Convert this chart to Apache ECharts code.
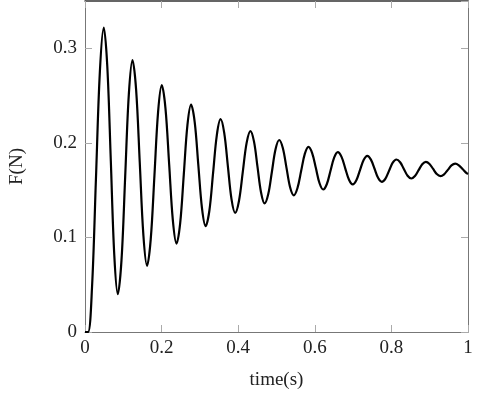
<!DOCTYPE html>
<html>
<head>
<meta charset="utf-8">
<script src="https://cdn.jsdelivr.net/npm/echarts@6/dist/echarts.min.js"></script>
<style>
  html, body { margin: 0; padding: 0; background: #fff; }
  #main { width: 480px; height: 397px; }
</style>
</head>
<body>
<div id="main"></div>
<script>
// values (peaks, troughs and points in between)
var time = [
  0, 0.008, 0.0183, 0.0285, 0.0388, 0.049, 0.0582, 0.0674, 0.0765, 0.0857,
  0.0953, 0.1049, 0.1144, 0.124, 0.1335, 0.143, 0.1525, 0.162,
  0.1716, 0.1813, 0.1909, 0.2005, 0.2101, 0.2198, 0.2294, 0.239,
  0.2485, 0.258, 0.2675, 0.277, 0.2865, 0.296, 0.3055, 0.315,
  0.3248, 0.3345, 0.3443, 0.354, 0.3635, 0.373, 0.3825, 0.392,
  0.402, 0.412, 0.422, 0.432, 0.4413, 0.4505, 0.4598, 0.469,
  0.4785, 0.488, 0.4975, 0.507, 0.5165, 0.526, 0.5355, 0.545,
  0.5546, 0.5643, 0.5739, 0.5835, 0.5931, 0.6028, 0.6124, 0.622,
  0.6315, 0.641, 0.6505, 0.66, 0.6698, 0.6795, 0.6893, 0.699,
  0.7085, 0.718, 0.7275, 0.737, 0.7465, 0.756, 0.7655, 0.775,
  0.7845, 0.794, 0.8035, 0.813, 0.8228, 0.8325, 0.8423, 0.852,
  0.8615, 0.871, 0.8805, 0.89, 0.8995, 0.909, 0.9185, 0.928,
  0.9376, 0.9473, 0.9569, 0.9665, 0.9761, 0.9858, 0.9954, 1.0
];
var force = [
  0, 0, 0.047, 0.161, 0.275, 0.322, 0.281, 0.181, 0.081, 0.040,
  0.076, 0.164, 0.251, 0.2875, 0.256, 0.179, 0.102, 0.070,
  0.098, 0.1655, 0.233, 0.261, 0.2365, 0.177, 0.118, 0.0935,
  0.115, 0.167, 0.219, 0.2405, 0.2217, 0.176, 0.1308, 0.112,
  0.1285, 0.1685, 0.2085, 0.225, 0.2105, 0.1755, 0.1405, 0.126,
  0.1386, 0.1693, 0.200, 0.2125, 0.2013, 0.1743, 0.1473, 0.136,
  0.1458, 0.1695, 0.1932, 0.203, 0.1945, 0.1738, 0.153, 0.1445,
  0.152, 0.1702, 0.1883, 0.1958, 0.1892, 0.1733, 0.1573, 0.1507,
  0.1565, 0.1705, 0.1844, 0.1902, 0.1852, 0.1731, 0.161, 0.156,
  0.1604, 0.1712, 0.1819, 0.1863, 0.1823, 0.1726, 0.1628, 0.1588,
  0.1622, 0.1706, 0.179, 0.1824, 0.1795, 0.1724, 0.1652, 0.1623,
  0.1649, 0.1711, 0.1773, 0.1799, 0.1777, 0.1724, 0.167, 0.1648,
  0.1667, 0.1714, 0.1761, 0.178, 0.1763, 0.1723, 0.1682, 0.167
];
var xTicks = [0, 0.2, 0.4, 0.6, 0.8, 1];
var yTicks = [0, 0.1, 0.2, 0.3];

var chart = echarts.init(document.getElementById('main'), null, { renderer: 'canvas' });

var font = "'Liberation Serif', 'DejaVu Serif', serif";
var points = [];
for (var i = 0; i < time.length; i++) {
  points.push([time[i], force[i]]);
}

var tick = { show: true, inside: true, length: 7, lineStyle: { color: '#aaa', width: 1 } };
var frame = { show: true, onZero: false, lineStyle: { color: '#777', width: 1 } };

var option = {
  backgroundColor: '#fff',
  animation: false,
  grid: { left: 85, right: 12, top: 1, bottom: 65, containLabel: false },
  xAxis: [{
    type: 'value',
    position: 'bottom',
    min: xTicks[0],
    max: xTicks[xTicks.length - 1],
    interval: 0.2,
    name: 'time(s)',
    nameLocation: 'middle',
    nameGap: 39,
    nameTextStyle: { fontFamily: font, fontSize: 19, color: '#222' },
    axisLine: frame,
    axisTick: tick,
    splitLine: { show: false },
    axisLabel: { fontFamily: font, fontSize: 19, color: '#222', margin: 7 }
  }, {
    type: 'value',
    position: 'top',
    min: 0,
    max: 1,
    interval: 0.2,
    axisLine: { show: true, onZero: false, lineStyle: { color: '#333', width: 1.5 } },
    axisTick: tick,
    splitLine: { show: false },
    axisLabel: { show: false }
  }],
  yAxis: [{
    type: 'value',
    position: 'left',
    min: yTicks[0],
    max: 0.35,
    interval: 0.1,
    name: 'F(N)',
    nameLocation: 'middle',
    nameGap: 58,
    nameTextStyle: { fontFamily: font, fontSize: 19, color: '#222' },
    axisLine: frame,
    axisTick: tick,
    splitLine: { show: false },
    axisLabel: { fontFamily: font, fontSize: 19, color: '#222', margin: 8, showMaxLabel: false }
  }, {
    type: 'value',
    position: 'right',
    min: 0,
    max: 0.35,
    interval: 0.1,
    axisLine: frame,
    axisTick: tick,
    splitLine: { show: false },
    axisLabel: { show: false }
  }],
  series: [{
    type: 'line',
    xAxisIndex: 0,
    yAxisIndex: 0,
    data: points,
    smooth: 0.35,
    showSymbol: false,
    symbol: 'none',
    lineStyle: { color: '#000', width: 2.2 }
  }]
};

chart.setOption(option);
</script>
</body>
</html>
